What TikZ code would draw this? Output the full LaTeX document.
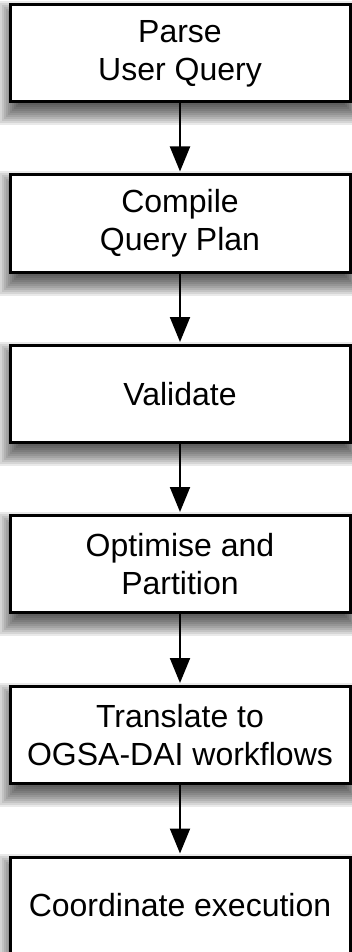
\documentclass[tikz,border=0pt]{standalone}
\usepackage{fontspec}
\setmainfont{Liberation Sans}
\usetikzlibrary{arrows.meta,backgrounds}
\begin{document}
\begin{tikzpicture}[x=1pt,y=-1pt,
  stepbox/.style={draw=black, line width=3pt, fill=white,
    minimum width=340pt, minimum height=97pt, inner sep=0pt,
    align=center, font=\fontsize{32}{38}\selectfont},
  shadowlayer/.style={fill=black, opacity=0.085},
  flow/.style={line width=2pt, -{Triangle[width=20pt,length=25pt]}, shorten >=2pt}]
  \useasboundingbox (0,0) rectangle (351,952);
  \node[stepbox] (parse)     at (180,53.5)  {Parse\\User Query};
  \node[stepbox] (compile)   at (180,223.5) {Compile\\Query Plan};
  \node[stepbox] (validate)  at (180,394)   {Validate};
  \node[stepbox] (optimise)  at (180,564)   {Optimise and\\Partition};
  \node[stepbox] (translate) at (180,735)   {Translate to\\OGSA-DAI workflows};
  \node[stepbox] (coord)     at (180,905.5) {Coordinate execution};
  % soft drop shadows built from stacked translucent rectangles
  \begin{scope}[on background layer]
    \foreach \n in {parse,compile,validate,optimise,translate,coord}
      \foreach \k in {-12,-10,...,12}
        \fill[shadowlayer] ([shift={(1+\k,10+\k)}]\n.north west)
          rectangle ([shift={(1-\k,10-\k)}]\n.south east);
  \end{scope}
  \draw[flow] (parse) -- (compile);
  \draw[flow] (compile) -- (validate);
  \draw[flow] (validate) -- (optimise);
  \draw[flow] (optimise) -- (translate);
  \draw[flow] (translate) -- (coord);
\end{tikzpicture}
\end{document}
